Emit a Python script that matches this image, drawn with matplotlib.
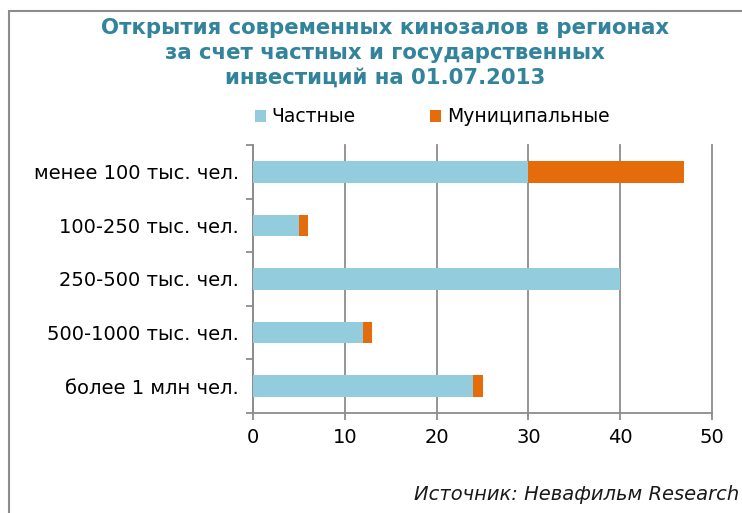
import matplotlib
matplotlib.use("Agg")
import matplotlib.pyplot as plt
from matplotlib.patches import Rectangle
import numpy as np

categories = ["менее 100 тыс. чел.", "100-250 тыс. чел.", "250-500 тыс. чел.",
              "500-1000 тыс. чел.", "более 1 млн чел."]
private = [30, 5, 40, 12, 24]
municipal = [17, 1, 0, 1, 1]
series_names = ["Частные", "Муниципальные"]
xticks = [0, 10, 20, 30, 40, 50]

W, H = 742, 513
fig = plt.figure(figsize=(W / 100, H / 100), dpi=100)
plt.rcParams['font.family'] = ['DejaVu Sans']

grey = "#8c8c8c"
# outer frame
fig.patches.append(Rectangle((9 / W, -0.1), 1.2, (H - 11) / H + 0.1, transform=fig.transFigure,
                             fill=False, edgecolor=grey, linewidth=1.5))

left, right, top, bottom = 253, 712, 145, 413
ax = fig.add_axes([left / W, 1 - bottom / H, (right - left) / W, (bottom - top) / H])

c1, c2 = "#93CDDD", "#E46C0A"
y = np.arange(len(categories))
ax.barh(y, private, height=0.4, color=c1, label=series_names[0], zorder=3)
ax.barh(y, municipal, left=private, height=0.4, color=c2, label=series_names[1], zorder=3)

ax.set_xlim(0, 50)
ax.set_ylim(len(categories) - 0.5, -0.5)
ax.set_xticks(xticks)
ax.set_xticklabels([str(v) for v in xticks], fontsize=14)
ax.tick_params(axis="x", length=5, width=1.3, color=grey, pad=6)
ax.set_yticks(y)
ax.set_yticklabels(categories, fontsize=14)
ax.tick_params(axis="y", which="major", length=0, pad=10)
ax.set_yticks(np.arange(len(categories) + 1) - 0.5, minor=True)
ax.tick_params(axis="y", which="minor", length=5, width=1.3, color=grey)
ax.grid(axis="x", color=grey, linewidth=1.3, zorder=0)
for gl in ax.get_xgridlines():
    gl.set_clip_on(False)
for s in ["top", "right"]:
    ax.spines[s].set_visible(False)
for s in ["left", "bottom"]:
    ax.spines[s].set_color(grey)
    ax.spines[s].set_linewidth(1.3)

title_color = "#31849B"
fig.text(385 / W, 1 - 53 / H,
         "Открытия современных кинозалов в регионах\nза счет частных и государственных\nинвестиций на 01.07.2013",
         ha="center", va="center", fontsize=15.3, fontweight="bold", color=title_color,
         linespacing=1.3)

ax.legend(loc="center", bbox_to_anchor=(432 / W, 1 - 117 / H), bbox_transform=fig.transFigure,
          ncol=2, frameon=False, fontsize=13.5, handlelength=0.6, handleheight=0.6,
          handletextpad=0.3, columnspacing=3.95)

fig.text(739 / W, 1 - 495 / H, "Источник: Невафильм Research", ha="right", va="center",
         fontsize=14, style="italic", color="#1a1a1a")

fig.savefig("out.png", dpi=100)
